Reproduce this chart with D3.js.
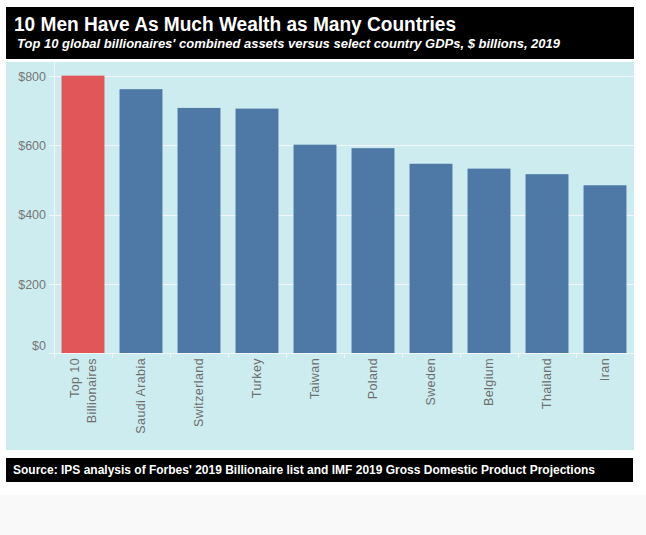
<!DOCTYPE html>
<html><head><meta charset="utf-8">
<script src="https://cdn.jsdelivr.net/npm/d3@7"></script>
<style>
html,body{margin:0;padding:0;background:#fff;}
svg{display:block;}
</style></head>
<body>
<script>
const categories = ["Top 10\nBillionaires","Saudi Arabia","Switzerland","Turkey","Taiwan","Poland","Sweden","Belgium","Thailand","Iran"];
const values = [801, 762, 708, 706, 602, 592, 547, 533, 517, 485];
const highlight = ["Top 10\nBillionaires"];
const yTicks = [0, 200, 400, 600, 800];
const title = "10 Men Have As Much Wealth as Many Countries";
const subtitle = "Top 10 global billionaires' combined assets versus select country GDPs, $ billions, 2019";
const source = "Source: IPS analysis of Forbes' 2019 Billionaire list and IMF 2019 Gross Domestic Product Projections";

const W = 646, H = 535;
const svg = d3.select("body").append("svg").attr("width", W).attr("height", H);

// bottom gray strip
svg.append("rect").attr("x",0).attr("y",495).attr("width",W).attr("height",H-495).attr("fill","#f9f9f9");

// header
svg.append("rect").attr("x",6).attr("y",7).attr("width",628).attr("height",52).attr("fill","#000");
svg.append("text").attr("x",14).attr("y",31).attr("fill","#fff")
  .attr("font-family","'Liberation Sans',Arial,sans-serif").attr("font-weight","bold").attr("font-size",20)
  .attr("textLength",442).attr("lengthAdjust","spacingAndGlyphs").text(title);
svg.append("text").attr("x",17).attr("y",48).attr("fill","#fff")
  .attr("font-family","'Liberation Sans',Arial,sans-serif").attr("font-weight","bold").attr("font-style","italic").attr("font-size",13)
  .attr("textLength",543).attr("lengthAdjust","spacingAndGlyphs").text(subtitle);

// panel
svg.append("rect").attr("x",6).attr("y",62).attr("width",628).attr("height",388).attr("fill","#cdecef");

// source box
svg.append("rect").attr("x",6).attr("y",458).attr("width",627).attr("height",24).attr("fill","#000");
svg.append("text").attr("x",13).attr("y",474).attr("fill","#fff")
  .attr("font-family","'Liberation Sans',Arial,sans-serif").attr("font-weight","bold").attr("font-size",12.5)
  .attr("textLength",582).attr("lengthAdjust","spacingAndGlyphs").text(source);

const x = d3.scaleBand().domain(categories).range([54, 634]).paddingInner(0.26).paddingOuter(0.13);
const y = d3.scaleLinear().domain([0, 800]).range([353.5, 76]);

// gridlines
const g = svg.append("g");
g.selectAll("line.grid").data(yTicks.filter(d=>d>0)).join("line")
  .attr("x1",49).attr("x2",634).attr("y1",d=>Math.round(y(d))+0.5).attr("y2",d=>Math.round(y(d))+0.5)
  .attr("stroke","#f3f6f6").attr("stroke-width",1);

// bars
g.selectAll("rect.bar").data(categories).join("rect")
  .attr("x",d=>x(d)).attr("width",x.bandwidth())
  .attr("y",(d,i)=>y(values[i])).attr("height",(d,i)=>y(0)-y(values[i]))
  .attr("fill",d=>highlight.includes(d)?"#e15759":"#4e79a7");

// y axis line
g.append("line").attr("x1",54.5).attr("x2",54.5).attr("y1",62).attr("y2",358).attr("stroke","#f3f6f6");
// x axis line
g.append("line").attr("x1",49).attr("x2",634).attr("y1",353.5).attr("y2",353.5).attr("stroke","#f3f6f6");

// y tick labels
const yAxis = d3.axisLeft(y).tickValues(yTicks).tickFormat(d=>"$"+d).tickSize(0).tickPadding(8);
const ya = svg.append("g").attr("transform","translate(54,0)").call(yAxis);
ya.select(".domain").remove();
ya.selectAll("text").attr("fill","#777").attr("font-size",12.5).attr("font-family","'Liberation Sans',Arial,sans-serif")
  .attr("dy", d=> d===0 ? "-0.35em" : "0.32em");

// x ticks (band boundaries)
const bounds = categories.map(c=>x(c)-x.step()*x.paddingInner()/2).slice(1);
g.selectAll("line.xt").data(bounds).join("line")
  .attr("x1",d=>Math.round(d)+0.5).attr("x2",d=>Math.round(d)+0.5).attr("y1",353.5).attr("y2",358)
  .attr("stroke","#f3f6f6");

// x labels rotated
const xa = svg.append("g");
categories.forEach(c=>{
  const lines = c.split("\n");
  const cx = x(c) + x.bandwidth()/2;
  const lh = 17;
  lines.forEach((ln,j)=>{
    const off = (j - (lines.length-1)/2)*lh;
    xa.append("text")
      .attr("transform",`translate(${cx+off+4},358) rotate(-90)`)
      .attr("text-anchor","end")
      .attr("fill","#6f6f6f").attr("font-size",12.5)
      .attr("letter-spacing","0.4")
      .attr("font-family","'Liberation Sans',Arial,sans-serif")
      .text(ln);
  });
});
</script>
</body></html>
